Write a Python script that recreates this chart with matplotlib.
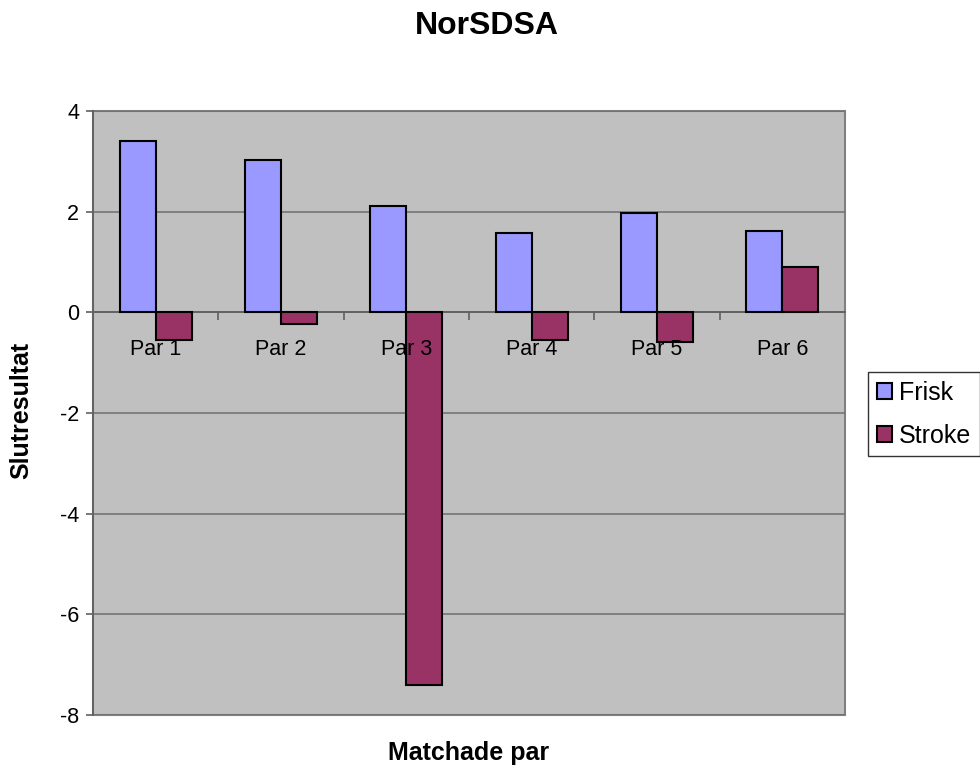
import matplotlib.pyplot as plt
from matplotlib.patches import Patch
import numpy as np

plt.rcParams['font.family'] = ['Liberation Sans', 'DejaVu Sans']
plt.rcParams['axes.unicode_minus'] = False

# Slutresultat per matchat par
categories = ['Par 1', 'Par 2', 'Par 3', 'Par 4', 'Par 5', 'Par 6']
frisk = [3.4, 3.03, 2.12, 1.58, 1.97, 1.62]
stroke = [-0.55, -0.24, -7.4, -0.55, -0.58, 0.9]
y_ticks = [4, 2, 0, -2, -4, -6, -8]

frisk_color = '#9999FF'
stroke_color = '#993366'
axis_gray = '#606060'

fig = plt.figure(figsize=(9.8, 7.71), dpi=100)
ax = fig.add_axes([93 / 980, 1 - 715 / 771, (845 - 93) / 980, (715 - 111) / 771])
ax.set_facecolor('#C0C0C0')

x = np.arange(len(categories))
w = 0.287
ax.bar(x - w / 2, frisk, w, color=frisk_color, edgecolor='black', linewidth=1.5, zorder=3)
ax.bar(x + w / 2, stroke, w, color=stroke_color, edgecolor='black', linewidth=1.5, zorder=3)

ax.set_xlim(-0.5, len(categories) - 0.5)
ax.set_ylim(-8, 4)
ax.set_yticks(y_ticks)
ax.yaxis.grid(True, color='#6e6e6e', linewidth=1.1, zorder=1)
ax.set_axisbelow(True)

# grey frame round the plot area
ax.patch.set_edgecolor('#808080')
ax.patch.set_linewidth(1.5)
for side in ['top', 'right']:
    ax.spines[side].set_visible(False)
ax.spines['left'].set_color(axis_gray)
ax.spines['left'].set_linewidth(1.3)

# category axis runs along zero, tick marks between the categories
ax.spines['bottom'].set_position(('data', 0))
ax.spines['bottom'].set_color(axis_gray)
ax.spines['bottom'].set_linewidth(1.3)
ax.spines['bottom'].set_zorder(2)
ax.xaxis.set_zorder(4)  # labels sit on top of the bars
ax.set_xticks(x)
ax.set_xticklabels(categories)
ax.set_xticks(np.arange(0.5, len(categories) - 0.5, 1.0), minor=True)
ax.tick_params(axis='x', which='major', length=0, pad=19, labelsize=15.5)
ax.tick_params(axis='x', which='minor', direction='out', length=5.5, width=1.2,
               color=axis_gray)
ax.tick_params(axis='y', direction='out', length=5, width=1.2, color=axis_gray,
               labelsize=15.5, pad=5)

fig.text(487 / 980, 1 - 26 / 771, 'NorSDSA', ha='center', va='center',
         fontsize=23, fontweight='bold')
fig.text(469 / 980, 1 - 753 / 771, 'Matchade par', ha='center', va='center',
         fontsize=18, fontweight='bold')
fig.text(21 / 980, 1 - 410 / 771, 'Slutresultat', ha='center', va='center',
         rotation=90, fontsize=18, fontweight='bold')

handles = [Patch(facecolor=frisk_color, edgecolor='black', linewidth=1.5),
           Patch(facecolor=stroke_color, edgecolor='black', linewidth=1.5)]
leg = fig.legend(handles, ['Frisk', 'Stroke'], loc='upper left',
                 bbox_to_anchor=(868 / 980, 1 - 372 / 771), fontsize=18,
                 frameon=True, fancybox=False, handlelength=0.6, handleheight=0.6,
                 handletextpad=0.3, borderpad=0.35, labelspacing=0.75, borderaxespad=0)
leg.get_frame().set_edgecolor('black')
leg.get_frame().set_linewidth(1.0)

fig.savefig('out.png', dpi=100)
